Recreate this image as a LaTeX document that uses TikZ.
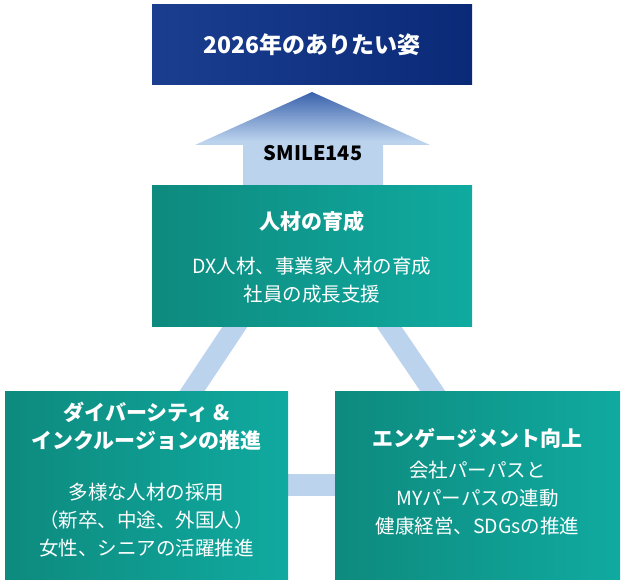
\documentclass[tikz,border=0pt]{standalone}
\usepackage{fontspec}
\setmainfont{Noto Sans CJK JP}
\usetikzlibrary{calc}
\definecolor{navyL}{HTML}{1B3E8F}
\definecolor{navyR}{HTML}{0A2A78}
\definecolor{tealL}{HTML}{0E8A7E}
\definecolor{tealR}{HTML}{10AAA0}
\definecolor{band}{HTML}{BCD3EE}
\definecolor{bandD}{HTML}{3A62AC}
\tikzset{
  tbox/.style={left color=tealL,right color=tealR,draw=none,text=white,align=center,inner sep=0pt},
  ttl/.style={font=\bfseries\fontsize{21}{28}\selectfont},
  bdy/.style={font=\fontsize{19.5}{28}\selectfont},
}
\begin{document}
\begin{tikzpicture}[x=1pt,y=-1pt]
\useasboundingbox (0,0) rectangle (625,585);
% bands
\fill[band] (227,320) -- (252,320) -- (200,398) -- (175,398) -- cycle;
\fill[band] (372,320) -- (397,320) -- (450,398) -- (425,398) -- cycle;
\fill[band] (280,474) rectangle (345,496);
% arrow
\shade[top color=bandD,bottom color=band,middle color=band] (312,92) -- (430,145) -- (383,145) -- (383,190) -- (243,190) -- (243,145) -- (195,145) -- cycle;
\node (smile) at (313,153) {\fontsize{20}{22}\selectfont\bfseries SMILE145};
% top
\node[left color=navyL,right color=navyR,minimum width=320,minimum height=80,inner sep=0pt,text=white,font=\bfseries\fontsize{23}{26}\selectfont] (top) at (312,45) {2026年のありたい姿};
% middle
\node[tbox,minimum width=320,minimum height=141] (mid) at (312,256.5) {};
\node[ttl,text=white] (midt) at (312,222) {人材の育成};
\node[bdy,text=white,align=center] (midb) at (312,280) {DX人材、事業家人材の育成\\社員の成長支援};
% left
\node[tbox,minimum width=283,minimum height=188] (left) at (146.5,486) {};
\node[ttl,text=white,align=center] (lt) at (146.5,426) {ダイバーシティ \&\\インクルージョンの推進};
\node[bdy,text=white,align=center] (lb) at (146.5,520) {多様な人材の採用\\（新卒、中途、外国人）\\女性、シニアの活躍推進};
% right
\node[tbox,minimum width=285,minimum height=188] (right) at (477.5,486) {};
\node[ttl,text=white] (rt) at (477.5,438) {エンゲージメント向上};
\node[bdy,text=white,align=center] (rb) at (477.5,498) {会社パーパスと\\MYパーパスの連動\\健康経営、SDGsの推進};
\end{tikzpicture}
\end{document}
